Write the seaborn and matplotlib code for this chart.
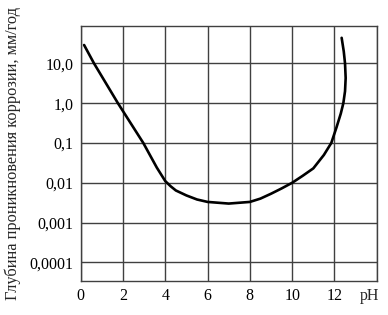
import matplotlib
matplotlib.use("Agg")
import matplotlib.pyplot as plt
import matplotlib.transforms as mtransforms
from matplotlib.ticker import FixedLocator, NullLocator
import seaborn as sns
import pandas as pd

ph = [0.16, 0.63, 1.76, 2.96, 3.6, 4.0, 4.25, 4.5, 5.0, 5.5, 6.0, 7.0, 8.0, 8.5, 9.0, 9.5, 10.0,
      10.5, 11.0, 11.5, 11.85, 12.1, 12.3, 12.42, 12.5, 12.53, 12.5, 12.44, 12.34]
depth = [29, 10, 1.0, 0.1, 0.024, 0.011, 0.0082, 0.0064, 0.0048, 0.0038, 0.0033, 0.0030, 0.0033,
         0.0040, 0.0053, 0.0072, 0.01, 0.015, 0.023, 0.05, 0.1, 0.25, 0.55, 1.0, 2.0,
         4.3, 10.0, 20.0, 44.0]

x_ticks = [0, 2, 4, 6, 8, 10, 12]
y_ticks = [0.0001, 0.001, 0.01, 0.1, 1.0, 10.0]
y_tick_labels = ["0,0001", "0,001", "0,01", "0,1", "1,0", "10,0"]

sns.set_style("white")
plt.rcParams["font.family"] = ["Liberation Serif", "DejaVu Serif"]

df = pd.DataFrame({"pH": ph, "depth": depth})

fig = plt.figure(figsize=(3.88, 3.15), dpi=100)
ax = fig.add_axes([0.208, 0.108, 0.763, 0.810])

sns.lineplot(data=df, x="pH", y="depth", sort=False, estimator=None,
             color="black", linewidth=1.9, ax=ax)

ax.set_yscale("log")
ax.set_xlim(0, 14)
ax.set_ylim(3.4e-5, 88)

ax.xaxis.set_major_locator(FixedLocator(x_ticks + [14]))
ax.set_xticklabels([str(t) for t in x_ticks] + [""])
ax.yaxis.set_major_locator(FixedLocator(y_ticks))
ax.yaxis.set_minor_locator(NullLocator())
ax.set_yticklabels(y_tick_labels)

ax.grid(True, which="major", color="#404040", linewidth=1.0)
for s in ax.spines.values():
    s.set_color("#404040")
    s.set_linewidth(1.0)
    s.set_visible(True)

ax.tick_params(axis="both", length=0, labelsize=11.5, colors="black", pad=5)
ax.set_xlabel("")
ax.set_ylabel("Глубина проникновения коррозии, мм/год", fontsize=11.8, labelpad=6)

trans = mtransforms.blended_transform_factory(ax.transData, ax.transAxes)
ax.text(13.68, -0.027, "pH", transform=trans, ha="center", va="top", fontsize=11.5)

fig.savefig("out.png", dpi=100)
